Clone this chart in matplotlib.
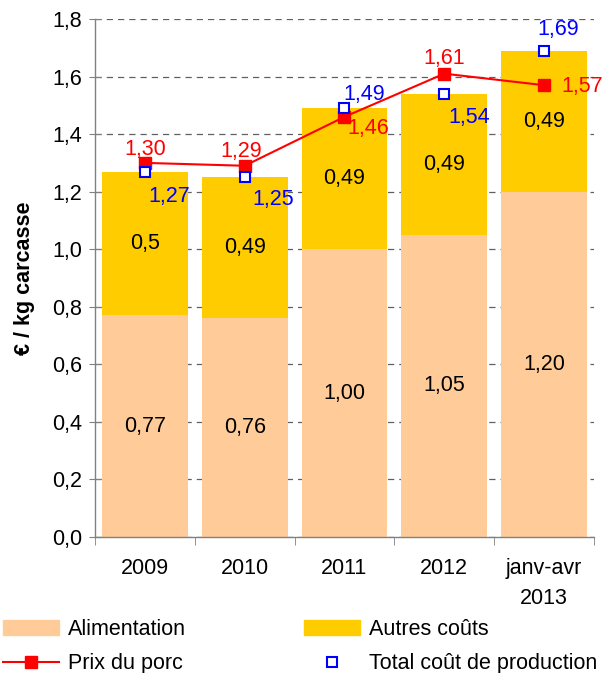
import matplotlib
matplotlib.use("Agg")
import matplotlib.pyplot as plt
from matplotlib.patches import Patch
from matplotlib.lines import Line2D
import numpy as np

plt.rcParams['font.family'] = ['Liberation Sans', 'DejaVu Sans']

categories = ["2009", "2010", "2011", "2012", "janv-avr\n2013"]
alimentation = [0.77, 0.76, 1.00, 1.05, 1.20]
autres = [0.5, 0.49, 0.49, 0.49, 0.49]
total = [1.27, 1.25, 1.49, 1.54, 1.69]
prix = [1.30, 1.29, 1.46, 1.61, 1.57]
alim_labels = ["0,77", "0,76", "1,00", "1,05", "1,20"]
autres_labels = ["0,5", "0,49", "0,49", "0,49", "0,49"]
total_labels = ["1,27", "1,25", "1,49", "1,54", "1,69"]
prix_labels = ["1,30", "1,29", "1,46", "1,61", "1,57"]

# label offsets in pixels
prix_off = [(0, 13), (-3, 14), (24, -12), (0, 15), (38, -1)]
total_off = [(24, -25), (29, -22), (20, 14), (25, -24), (14, 21)]

FS = 15.5
C_ALIM = "#FFCC99"
C_AUT = "#FFCC00"

fig = plt.figure(figsize=(6.03, 6.73), dpi=100)
ax = fig.add_axes([0.1575, 1 - 537 / 673, 0.985 - 0.1575, (537 - 19) / 673])

x = np.arange(len(categories))
ax.bar(x, alimentation, width=0.86, color=C_ALIM, zorder=2)
ax.bar(x, autres, width=0.86, bottom=alimentation, color=C_AUT, zorder=2)

for i in range(len(x)):
    ax.text(x[i], alimentation[i] / 2, alim_labels[i], ha='center', va='center',
            fontsize=FS, color='black', zorder=5)
    ax.text(x[i], alimentation[i] + autres[i] / 2, autres_labels[i], ha='center',
            va='center', fontsize=FS, color='black', zorder=5)

ax.plot(x, prix, color='#FF0000', lw=1.5, marker='s', ms=8.5,
        markerfacecolor='#FF0000', markeredgecolor='#FF0000', zorder=4)
ax.plot(x, total, ls='none', marker='s', ms=7.5, markerfacecolor='white',
        markeredgecolor='#0000FF', markeredgewidth=1.5, zorder=4)

for i in range(len(x)):
    ax.annotate(prix_labels[i], (x[i], prix[i]), xytext=prix_off[i],
                textcoords='offset pixels', ha='center', va='center',
                fontsize=FS, color='#FF0000', zorder=6)
    ax.annotate(total_labels[i], (x[i], total[i]), xytext=total_off[i],
                textcoords='offset pixels', ha='center', va='center',
                fontsize=FS, color='#0000FF', zorder=6)

ax.set_xlim(-0.5, len(categories) - 0.5)
ax.set_ylim(0, 1.8)
yt = np.arange(0, 1.81, 0.2)
ax.set_yticks(yt)
ax.set_yticklabels([f"{v:.1f}".replace('.', ',') for v in yt], fontsize=FS)
ax.set_xticks(x)
ax.set_xticklabels(categories, fontsize=FS, linespacing=1.6)
ax.set_xticks(np.arange(-0.5, len(categories), 1.0), minor=True)
ax.tick_params(axis='x', which='major', length=0, pad=15)
ax.tick_params(axis='x', which='minor', length=6, direction='out', color='#808080')
ax.tick_params(axis='y', length=9, direction='inout', color='#808080', pad=5)

ax.yaxis.grid(True, linestyle=(0, (5, 4)), color='#606060', lw=0.9, zorder=0)
ax.set_axisbelow(True)
for s in ['top', 'right']:
    ax.spines[s].set_visible(False)
for s in ['left', 'bottom']:
    ax.spines[s].set_color('#808080')
    ax.spines[s].set_linewidth(1.0)

ax.set_ylabel("€ / kg carcasse", fontsize=FS, fontweight='bold', labelpad=12)

handles = [Patch(color=C_ALIM, label="Alimentation"),
           Line2D([0], [0], color='#FF0000', lw=1.5, marker='s', ms=8.5, label="Prix du porc"),
           Patch(color=C_AUT, label="Autres coûts"),
           Line2D([0], [0], ls='none', marker='s', ms=7.5, markerfacecolor='white',
                  markeredgecolor='#0000FF', markeredgewidth=1.5, label="Total coût de production")]
fig.legend(handles=handles, loc='upper left', bbox_to_anchor=(0.005, 1 - 619 / 673),
           ncol=2, frameon=False, fontsize=FS, handlelength=2.6, handleheight=0.7,
           handletextpad=0.4, columnspacing=5.5, borderaxespad=0, borderpad=0,
           labelspacing=0.62)

fig.savefig("out.png", dpi=100)
